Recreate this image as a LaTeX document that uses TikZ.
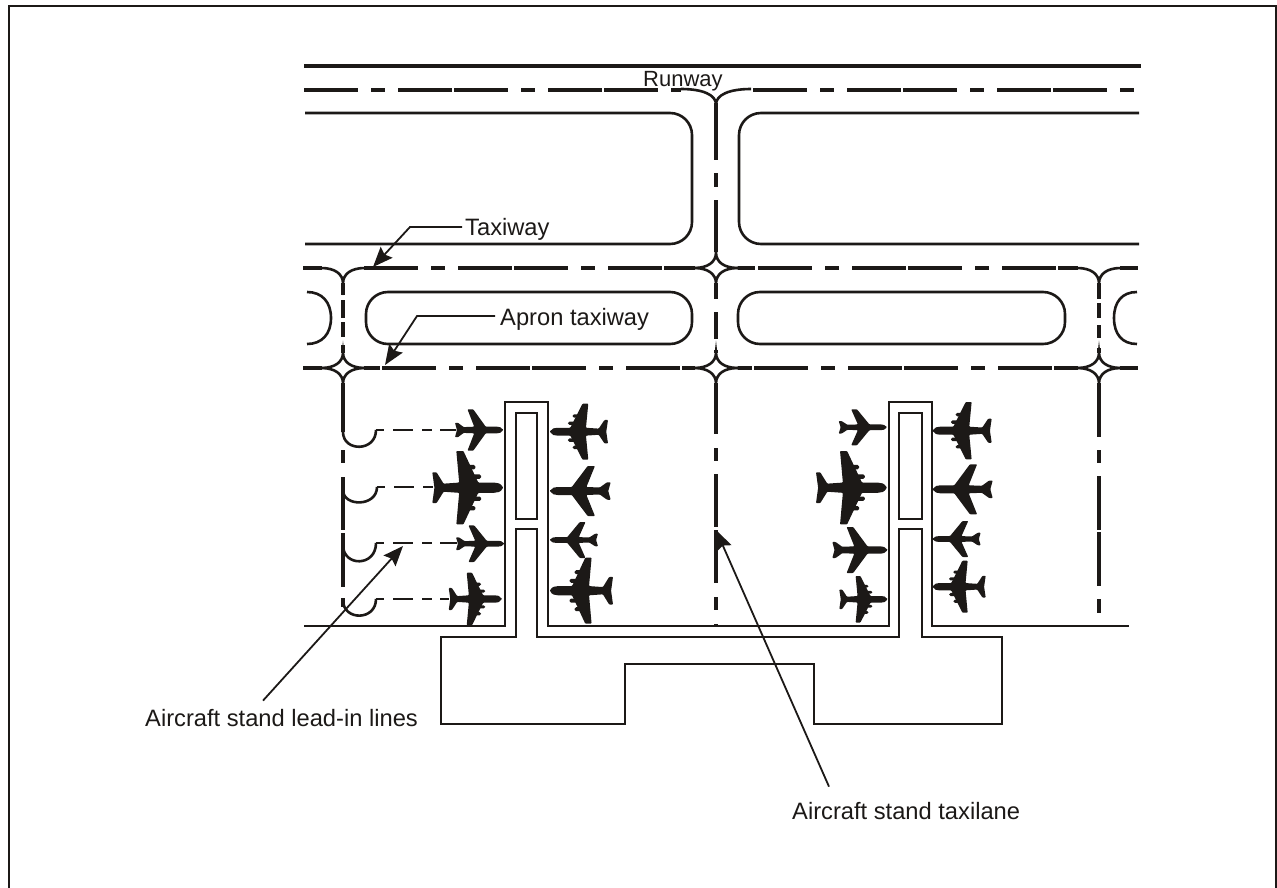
\documentclass[tikz,border=0pt]{standalone}
\usepackage{fontspec}
\setmainfont{Liberation Sans}
\usepackage{tikz}
\usetikzlibrary{arrows.meta,calc}

\definecolor{ink}{RGB}{28,25,23}

\tikzset{
    centreline/.style={line width=3.2pt},
    markings/.style={dash pattern=on 54pt off 13pt on 14pt off 13pt on 54pt off 2pt},
    edgeline/.style={line width=2.6pt},
    building/.style={line width=2.6pt},
    leadin/.style={line width=2.2pt, dash pattern=on 8pt off 9pt on 20pt off 9pt on 10pt off 8pt on 20pt off 9pt},
    leader/.style={line width=1.8pt},
    leaderarrow/.style={leader, -{Stealth[length=20pt,width=16pt,inset=3pt]}},
    labeltext/.style={anchor=base west, inner sep=0pt, font=\fontsize{23.7}{28}\selectfont},
    pics/fork/.style={code={
        \draw[edgeline] (-22,0) .. controls (-8,0) and (0,6) .. (0,15.5)
                                .. controls (0,6) and (8,0) .. (22,0);
    }},
    pics/jet/.style={code={
        \fill[rounded corners=0.8pt] (0,0) .. controls (-0.03,-0.13) and (-0.08,-0.16) .. (-0.14,-0.16) -- (-0.36,-0.16)
            -- (-0.62,-1) -- (-0.74,-1) -- (-0.60,-0.16) -- (-0.82,-0.14)
            -- (-0.94,-0.35) -- (-1,-0.35) -- (-0.96,0) -- (-1,0.35) -- (-0.94,0.35) -- (-0.82,0.14)
            -- (-0.60,0.16) -- (-0.74,1) -- (-0.62,1) -- (-0.36,0.16) -- (-0.14,0.16)
            .. controls (-0.08,0.16) and (-0.03,0.13) .. (0,0) -- cycle;
    }},
    pics/fourjet/.style={code={
        \fill[rounded corners=0.8pt] (0,0) .. controls (-0.03,-0.12) and (-0.08,-0.14) .. (-0.14,-0.14) -- (-0.35,-0.14)
            -- (-0.56,-1) -- (-0.66,-1) -- (-0.62,-0.14) -- (-0.84,-0.11)
            -- (-0.94,-0.42) -- (-1,-0.42) -- (-0.97,0) -- (-1,0.42) -- (-0.94,0.42) -- (-0.84,0.11)
            -- (-0.62,0.14) -- (-0.66,1) -- (-0.56,1) -- (-0.35,0.14) -- (-0.14,0.14)
            .. controls (-0.08,0.14) and (-0.03,0.12) .. (0,0) -- cycle;
        \foreach \side in {-1,1} {
            \fill[rounded corners=1.5pt] (-0.31,\side*0.24) rectangle (-0.44,\side*0.36);
            \fill[rounded corners=1.5pt] (-0.39,\side*0.50) rectangle (-0.50,\side*0.62);
        }
    }},
}

\begin{document}
\begin{tikzpicture}[x=1pt, y=-1pt, color=ink]
    \useasboundingbox (0,0) rectangle (1277,888);

    % frame
    \draw[line width=2pt] (9,888) -- (9,6) -- (1276,6) -- (1276,888);

    % runway
    \draw[line width=3.2pt] (304,66) -- (1141,66);
    \draw[centreline, markings] (304,90) -- (681,90);
    \draw[centreline, markings] (753,90) -- (1134,90);
    \pic[xscale=1.6] at (716,89) {fork};
    \draw[centreline, dash pattern=on 57pt off 13pt on 14pt off 13pt on 52pt] (716,103) -- (716,252);

    % grass islands
    \draw[edgeline, rounded corners=22pt] (305,113) -- (692,113) -- (692,244) -- (305,244);
    \draw[edgeline, rounded corners=22pt] (1139,113) -- (739,113) -- (739,244) -- (1139,244);
    \draw[edgeline, rounded corners=22pt] (366,292) rectangle (692,344);
    \draw[edgeline, rounded corners=22pt] (738,292) rectangle (1065,344);
    \draw[edgeline] (307,292) .. controls (322,292) and (331,302) .. (331,318)
                              .. controls (331,334) and (322,344) .. (307,344);
    \draw[edgeline] (1137,292) .. controls (1122,292) and (1114,302) .. (1114,318)
                               .. controls (1114,334) and (1122,344) .. (1137,344);

    % taxiway and apron taxiway
    \draw[centreline] (303,268) -- (322,268);
    \draw[centreline, markings] (364,268) -- (695,268);
    \draw[centreline] (738,268) -- (755,268);
    \draw[centreline, markings] (758,268) -- (1078,268);
    \draw[centreline] (1120,268) -- (1138,268);
    \draw[centreline] (303,368) -- (322,368);
    \draw[centreline] (364,368) -- (380,368);
    \draw[centreline, markings] (382,368) -- (695,368);
    \draw[centreline] (738,368) -- (752,368);
    \draw[centreline, markings] (754,368) -- (1078,368);
    \draw[centreline] (1120,368) -- (1138,368);

    \foreach \crossx in {343,716,1099} {
        \pic at (\crossx,268) {fork};
        \pic[yscale=-1] at (\crossx,368) {fork};
        \pic at (\crossx,368) {fork};
    }
    \pic[yscale=-1] at (716,268) {fork};

    \draw[centreline, dash pattern=on 12pt off 5pt on 18pt off 4pt on 15pt off 8pt on 10pt] (343,283) -- (343,353);
    \draw[centreline, dash pattern=on 16pt off 13pt on 27pt off 11pt on 10pt] (716,283) -- (716,353);
    \draw[centreline, dash pattern=on 16pt off 4pt on 15pt off 7pt on 13pt off 10pt on 6pt] (1099,283) -- (1099,353);

    % stand taxilanes
    \draw[centreline] (343,383) -- (343,432);
    \draw[centreline, dash pattern=on 13pt off 14pt on 53pt off 3pt on 54pt off 11pt on 9pt] (343,450) -- (343,607);
    \draw[centreline, dash pattern=on 51pt off 14pt on 13pt off 13pt on 53pt off 3pt on 53pt off 14pt on 13pt off 14pt on 3pt] (716,383) -- (716,626);
    \draw[centreline, dash pattern=on 54pt off 13pt on 13pt off 13pt on 54pt off 2pt on 54pt off 13pt on 14pt] (1099,383) -- (1099,613);

    % lead-in lines
    \draw[edgeline] (343,432) .. controls (343,452) and (376,452) .. (376,430);
    \draw[edgeline] (343,490) .. controls (343,507) and (377,507) .. (377,487);
    \draw[edgeline] (343,545) .. controls (343,567) and (376,567) .. (376,543);
    \draw[edgeline] (343,600) .. controls (343,621) and (376,621) .. (376,599);
    \draw[leadin] (376,430) -- (456,430);
    \draw[leadin] (377,487) -- (434,487);
    \draw[leadin] (376,543) -- (457,543);
    \draw[leadin] (376,599) -- (449,599);

    % piers and terminal
    \draw[building] (304,626) -- (505,626) -- (505,402) -- (548,402) -- (548,626)
        -- (889,626) -- (889,402) -- (932,402) -- (932,626) -- (1129,626);
    \draw[building] (516,413) rectangle (537,519);
    \draw[building] (899,413) rectangle (922,519);
    \draw[building] (516,529) -- (537,529) -- (537,637) -- (899,637) -- (899,529) -- (922,529)
        -- (922,637) -- (1002,637) -- (1002,724) -- (814,724) -- (814,664) -- (625,664)
        -- (625,724) -- (441,724) -- (441,637) -- (516,637) -- cycle;

    % aircraft
    \foreach \nosex/\nosey/\plen/\pwing in {503/430/48/20.7, 504/543.7/48/18.3, 550/491/-60.7/25,
        550/540/-48/18, 886.7/427.3/48/18, 887.3/550/55/23, 932.7/489.3/-60/25, 932.7/539/-48/18}
        \pic[xscale=\plen, yscale=\pwing] at (\nosex,\nosey) {jet};
    \foreach \nosex/\nosey/\plen/\pwing in {503/487.7/70.7/36.7, 501.7/599/53/26.3, 550/431.7/-58/28,
        550/590.7/-63/33, 886.7/487.7/70.7/36.7, 887.3/599.3/48/23.3, 932.7/430.7/-59/28.7, 932.7/586.7/-53/26}
        \pic[xscale=\plen, yscale=\pwing] at (\nosex,\nosey) {fourjet};

    % labels
    \node[labeltext, font=\fontsize{22}{26}\selectfont] (runway) at (643,87) {Runway};
    \node[labeltext] (taxiway) at (465,235) {Taxiway};
    \node[labeltext] (apron) at (500,325) {Apron taxiway};
    \node[labeltext] (leadlabel) at (145,726) {Aircraft stand lead-in lines};
    \node[labeltext] (lanelabel) at (792,819) {Aircraft stand taxilane};

    \coordinate (taxiwaybend) at (410,227);
    \coordinate (taxiwaytip) at (373,267);
    \coordinate (apronbend) at (417,316);
    \coordinate (aprontip) at (385,365);
    \coordinate (leadtip) at (403,546);
    \coordinate (lanetip) at (716,530);

    \draw[leaderarrow] ($(taxiway.base west) + (-3,-8)$) -- (taxiwaybend) -- (taxiwaytip);
    \draw[leaderarrow] ($(apron.base west) + (-5,-9)$) -- (apronbend) -- (aprontip);
    \draw[leaderarrow] ($(leadlabel.north west) + (118,-8)$) -- (leadtip);
    \draw[leaderarrow] ($(lanelabel.north west) + (37,-15)$) -- (lanetip);
\end{tikzpicture}
\end{document}
